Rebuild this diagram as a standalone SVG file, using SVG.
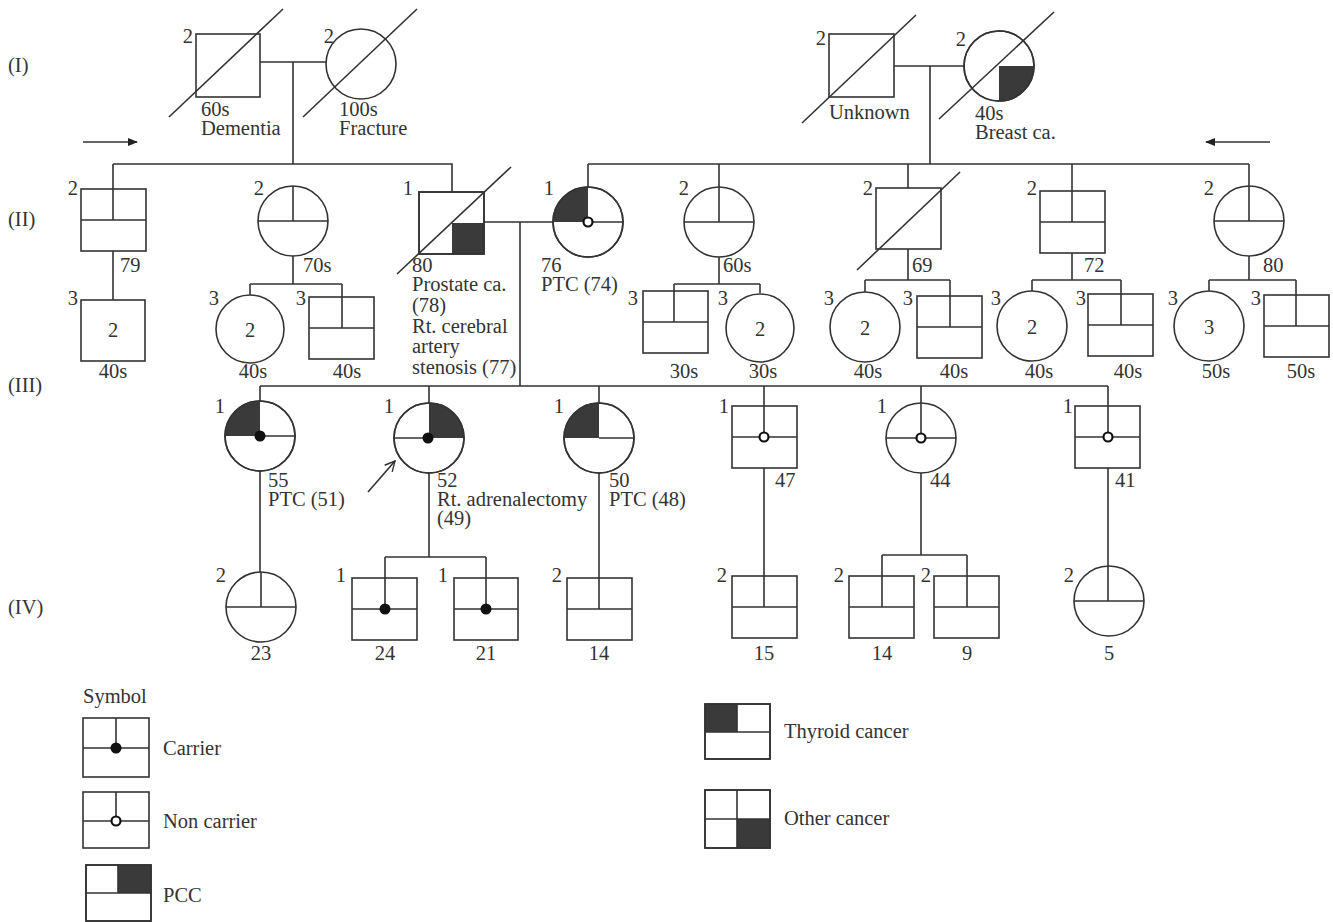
<svg xmlns="http://www.w3.org/2000/svg" width="1333" height="922" viewBox="0 0 1333 922">
<style>
.s{fill:none;stroke:#333;stroke-width:1.6}
.n{fill:#fff;stroke:#333;stroke-width:1.6}
.f{fill:#3a3a3a;stroke:none}
.d{fill:#111;stroke:none}
.o{fill:#fff;stroke:#111;stroke-width:2.2}
text{font-family:"Liberation Serif","Times New Roman",serif;font-size:20.5px;fill:#333}
.m{text-anchor:middle}
.e{text-anchor:end}
</style>
<defs>
<marker id="ah" markerWidth="10" markerHeight="8" refX="9" refY="4" orient="auto" markerUnits="userSpaceOnUse">
<path d="M0,0 L10,4 L0,8 Z" fill="#222"/>
</marker>
<marker id="pa" markerWidth="12" markerHeight="12" refX="11" refY="6" orient="auto" markerUnits="userSpaceOnUse">
<path d="M1,1 L11,6 L1,11" fill="none" stroke="#333" stroke-width="1.4"/>
</marker>
</defs>
<rect width="1333" height="922" fill="#fff"/>

<g id="generation-labels">
<text x="8" y="72">(I)</text>
<text x="8" y="226">(II)</text>
<text x="8" y="392">(III)</text>
<text x="8" y="614">(IV)</text>
</g>

<g id="connectors">
<path class="s" d="M260,62 H326 M293,62 V164"/>
<path class="s" d="M894,66 H964 M930,66 V164"/>
<path class="s" d="M113,164 H452 V192 M113,164 V189"/>
<path class="s" d="M588,164 H1249 M588,164 V187 M719,164 V187 M908,164 V188 M1072,164 V191 M1249,164 V186"/>
<path class="s" d="M113,251 V300"/>
<path class="s" d="M293,256 V284 M250,284 H342 M250,284 V295"/>
<path class="s" d="M484,222 H553 M520,222 V386"/>
<path class="s" d="M719,257 V284 M674,284 H760 M760,284 V293"/>
<path class="s" d="M908,249 V280 M865,280 H950 M865,280 V292"/>
<path class="s" d="M1072,253 V280 M1032,280 H1121 M1032,280 V291"/>
<path class="s" d="M1249,256 V280 M1209,280 H1296 M1209,280 V291"/>
<path class="s" d="M260,386 H1108 M260,386 V401 M429,386 V403 M599,386 V403 M764,386 V406 M921,386 V403 M1108,386 V406"/>
<path class="s" d="M260,471 V572"/>
<path class="s" d="M429,473 V557 M385,557 H486 M385,557 V578 M486,557 V578"/>
<path class="s" d="M599,473 V578"/>
<path class="s" d="M764,468 V576"/>
<path class="s" d="M921,473 V555 M882,555 H967 M882,555 V576 M967,555 V576"/>
<path class="s" d="M1108,468 V566"/>
<line class="s" x1="83" y1="142" x2="137" y2="142" marker-end="url(#ah)"/>
<line class="s" x1="1270" y1="142" x2="1206" y2="142" marker-end="url(#ah)"/>
<line class="s" x1="368" y1="492" x2="395" y2="461" stroke-width="1.3" marker-end="url(#pa)"/>
</g>

<g id="I-1">
<rect class="n" x="196" y="34" width="64" height="63"/>
<line class="s" x1="169" y1="117" x2="283" y2="9"/>
<text class="e" x="193" y="43">2</text>
<text x="201" y="116">60s</text>
<text x="201" y="135">Dementia</text>
</g>
<g id="I-2">
<circle class="n" cx="361" cy="64" r="35"/>
<line class="s" x1="303" y1="117" x2="417" y2="9"/>
<text class="e" x="334" y="43">2</text>
<text x="339" y="116">100s</text>
<text x="339" y="135">Fracture</text>
</g>
<g id="I-3">
<rect class="n" x="829" y="34" width="65" height="63"/>
<line class="s" x1="802" y1="123" x2="916" y2="15"/>
<text class="e" x="826" y="45">2</text>
<text x="829" y="119">Unknown</text>
</g>
<g id="I-4">
<circle class="n" cx="999" cy="66" r="35"/>
<path class="f" d="M999,66 H1034 A35,35 0 0 1 999,101 Z"/>
<circle class="s" cx="999" cy="66" r="35"/>
<line class="s" x1="939" y1="119" x2="1054" y2="12"/>
<text class="e" x="966" y="46">2</text>
<text x="975" y="120">40s</text>
<text x="975" y="139">Breast ca.</text>
</g>

<g id="II-1">
<rect class="n" x="81" y="189" width="65" height="62"/>
<path class="s" d="M113,189 V220 M81,220 H146"/>
<text class="e" x="78" y="195">2</text>
<text x="120" y="272">79</text>
</g>
<g id="II-2">
<circle class="n" cx="293" cy="221" r="35"/>
<path class="s" d="M293,186 V221 M258,221 H328"/>
<text class="e" x="264" y="195">2</text>
<text x="303" y="272">70s</text>
</g>
<g id="II-3">
<rect class="n" x="419" y="192" width="65" height="62"/>
<rect class="f" x="452" y="223" width="32" height="31"/>
<rect class="s" x="419" y="192" width="65" height="62"/>
<line class="s" x1="397" y1="274" x2="511" y2="167"/>
<text class="e" x="413" y="195">1</text>
<text x="412" y="272">80</text>
<text x="412" y="291">Prostate ca.</text>
<text x="412" y="312">(78)</text>
<text x="412" y="333">Rt. cerebral</text>
<text x="412" y="353">artery</text>
<text x="412" y="374">stenosis (77)</text>
</g>
<g id="II-4">
<circle class="n" cx="588" cy="222" r="35"/>
<path class="f" d="M588,222 H553 A35,35 0 0 1 588,187 Z"/>
<circle class="s" cx="588" cy="222" r="35"/>
<path class="s" d="M588,222 H623"/>
<circle class="o" cx="588" cy="222" r="4.5"/>
<text class="e" x="554" y="195">1</text>
<text x="541" y="272">76</text>
<text x="541" y="291">PTC (74)</text>
</g>
<g id="II-5">
<circle class="n" cx="719" cy="222" r="35"/>
<path class="s" d="M719,187 V222 M684,222 H754"/>
<text class="e" x="689" y="195">2</text>
<text x="723" y="272">60s</text>
</g>
<g id="II-6">
<rect class="n" x="876" y="188" width="65" height="61"/>
<line class="s" x1="857" y1="270" x2="960" y2="172"/>
<text class="e" x="873" y="195">2</text>
<text x="912" y="272">69</text>
</g>
<g id="II-7">
<rect class="n" x="1040" y="191" width="65" height="62"/>
<path class="s" d="M1072,191 V222 M1040,222 H1105"/>
<text class="e" x="1037" y="195">2</text>
<text x="1084" y="272">72</text>
</g>
<g id="II-8">
<circle class="n" cx="1249" cy="221" r="35"/>
<path class="s" d="M1249,186 V221 M1214,221 H1284"/>
<text class="e" x="1214" y="195">2</text>
<text x="1263" y="272">80</text>
</g>

<g id="III-1">
<rect class="n" x="81" y="300" width="64" height="61"/>
<text class="m" x="113" y="337">2</text>
<text class="e" x="78" y="305">3</text>
<text class="m" x="113" y="378">40s</text>
</g>
<g id="III-2">
<circle class="n" cx="250" cy="329" r="34"/>
<text class="m" x="250" y="337">2</text>
<text class="e" x="219" y="305">3</text>
<text class="m" x="253" y="378">40s</text>
</g>
<g id="III-3">
<rect class="n" x="309" y="297" width="65" height="62"/>
<path class="s" d="M342,284 V328 M309,328 H374"/>
<text class="e" x="306" y="305">3</text>
<text class="m" x="347" y="378">40s</text>
</g>
<g id="III-4">
<rect class="n" x="643" y="291" width="65" height="62"/>
<path class="s" d="M674,284 V322 M643,322 H708"/>
<text class="e" x="638" y="305">3</text>
<text class="m" x="684" y="378">30s</text>
</g>
<g id="III-5">
<circle class="n" cx="760" cy="328" r="34"/>
<text class="m" x="760" y="336">2</text>
<text class="e" x="728" y="305">3</text>
<text class="m" x="763" y="378">30s</text>
</g>
<g id="III-6">
<circle class="n" cx="865" cy="327" r="35"/>
<text class="m" x="865" y="335">2</text>
<text class="e" x="834" y="305">3</text>
<text class="m" x="868" y="378">40s</text>
</g>
<g id="III-7">
<rect class="n" x="917" y="296" width="65" height="62"/>
<path class="s" d="M950,280 V327 M917,327 H982"/>
<text class="e" x="913" y="305">3</text>
<text class="m" x="954" y="378">40s</text>
</g>
<g id="III-8">
<circle class="n" cx="1032" cy="326" r="35"/>
<text class="m" x="1032" y="334">2</text>
<text class="e" x="1001" y="305">3</text>
<text class="m" x="1039" y="378">40s</text>
</g>
<g id="III-9">
<rect class="n" x="1088" y="294" width="65" height="62"/>
<path class="s" d="M1121,280 V325 M1088,325 H1153"/>
<text class="e" x="1086" y="305">3</text>
<text class="m" x="1128" y="378">40s</text>
</g>
<g id="III-10">
<circle class="n" cx="1209" cy="326" r="35"/>
<text class="m" x="1209" y="334">3</text>
<text class="e" x="1178" y="305">3</text>
<text class="m" x="1216" y="378">50s</text>
</g>
<g id="III-11">
<rect class="n" x="1264" y="295" width="65" height="62"/>
<path class="s" d="M1296,280 V326 M1264,326 H1329"/>
<text class="e" x="1261" y="305">3</text>
<text class="m" x="1301" y="378">50s</text>
</g>

<g id="III-a">
<circle class="n" cx="260" cy="436" r="35"/>
<path class="f" d="M260,436 H225 A35,35 0 0 1 260,401 Z"/>
<circle class="s" cx="260" cy="436" r="35"/>
<path class="s" d="M260,436 H295"/>
<circle class="d" cx="260" cy="436" r="5.5"/>
<text class="e" x="225" y="413">1</text>
<text x="268" y="487">55</text>
<text x="268" y="506">PTC (51)</text>
</g>
<g id="III-b">
<circle class="n" cx="429" cy="438" r="35"/>
<path class="f" d="M429,438 V403 A35,35 0 0 1 464,438 Z"/>
<circle class="s" cx="429" cy="438" r="35"/>
<path class="s" d="M394,438 H429"/>
<circle class="d" cx="428" cy="438" r="5.5"/>
<text class="e" x="394" y="413">1</text>
<text x="437" y="487">52</text>
<text x="437" y="506">Rt. adrenalectomy</text>
<text x="437" y="525">(49)</text>
</g>
<g id="III-c">
<circle class="n" cx="599" cy="438" r="35"/>
<path class="f" d="M599,438 H564 A35,35 0 0 1 599,403 Z"/>
<circle class="s" cx="599" cy="438" r="35"/>
<path class="s" d="M599,438 H634"/>
<text class="e" x="564" y="413">1</text>
<text x="609" y="487">50</text>
<text x="609" y="506">PTC (48)</text>
</g>
<g id="III-d">
<rect class="n" x="732" y="406" width="65" height="62"/>
<path class="s" d="M764,406 V437 M732,437 H797"/>
<circle class="o" cx="764" cy="437" r="4.5"/>
<text class="e" x="729" y="413">1</text>
<text x="775" y="487">47</text>
</g>
<g id="III-e">
<circle class="n" cx="921" cy="438" r="35"/>
<path class="s" d="M921,403 V438 M886,438 H956"/>
<circle class="o" cx="921" cy="438" r="4.5"/>
<text class="e" x="887" y="413">1</text>
<text x="930" y="487">44</text>
</g>
<g id="III-f">
<rect class="n" x="1075" y="406" width="65" height="62"/>
<path class="s" d="M1108,406 V437 M1075,437 H1140"/>
<circle class="o" cx="1108" cy="437" r="4.5"/>
<text class="e" x="1073" y="413">1</text>
<text x="1115" y="487">41</text>
</g>

<g id="IV-a">
<circle class="n" cx="261" cy="607" r="35"/>
<path class="s" d="M261,572 V607 M226,607 H296"/>
<text class="e" x="226" y="582">2</text>
<text class="m" x="261" y="660">23</text>
</g>
<g id="IV-b">
<rect class="n" x="352" y="578" width="65" height="62"/>
<path class="s" d="M385,578 V609 M352,609 H417"/>
<circle class="d" cx="385" cy="609" r="5.5"/>
<text class="e" x="346" y="582">1</text>
<text class="m" x="385" y="660">24</text>
</g>
<g id="IV-c">
<rect class="n" x="454" y="578" width="64" height="62"/>
<path class="s" d="M486,578 V609 M454,609 H518"/>
<circle class="d" cx="486" cy="609" r="5.5"/>
<text class="e" x="448" y="582">1</text>
<text class="m" x="486" y="660">21</text>
</g>
<g id="IV-d">
<rect class="n" x="567" y="578" width="65" height="62"/>
<path class="s" d="M599,578 V609 M567,609 H632"/>
<text class="e" x="562" y="582">2</text>
<text class="m" x="599" y="660">14</text>
</g>
<g id="IV-e">
<rect class="n" x="732" y="576" width="65" height="62"/>
<path class="s" d="M764,576 V607 M732,607 H797"/>
<text class="e" x="727" y="582">2</text>
<text class="m" x="764" y="660">15</text>
</g>
<g id="IV-f">
<rect class="n" x="849" y="576" width="65" height="62"/>
<path class="s" d="M882,576 V607 M849,607 H914"/>
<text class="e" x="844" y="582">2</text>
<text class="m" x="882" y="660">14</text>
</g>
<g id="IV-g">
<rect class="n" x="934" y="576" width="65" height="62"/>
<path class="s" d="M967,576 V607 M934,607 H999"/>
<text class="e" x="931" y="582">2</text>
<text class="m" x="967" y="660">9</text>
</g>
<g id="IV-h">
<circle class="n" cx="1109" cy="601" r="35"/>
<path class="s" d="M1108,566 V601 M1074,601 H1144"/>
<text class="e" x="1074" y="582">2</text>
<text class="m" x="1109" y="660">5</text>
</g>

<g id="legend">
<text x="83" y="703">Symbol</text>
<g id="legend-carrier">
<rect class="n" x="83" y="718" width="66" height="59"/>
<path class="s" d="M116,718 V748 M83,748 H149"/>
<circle class="d" cx="116" cy="748" r="5.5"/>
<text x="163" y="755">Carrier</text>
</g>
<g id="legend-noncarrier">
<rect class="n" x="83" y="792" width="66" height="56"/>
<path class="s" d="M116,792 V821 M83,821 H149"/>
<circle class="o" cx="116" cy="821" r="4.5"/>
<text x="163" y="828">Non carrier</text>
</g>
<g id="legend-pcc">
<rect class="n" x="86" y="865" width="65" height="56"/>
<rect class="f" x="118" y="865" width="33" height="28"/>
<path class="s" d="M86,893 H151 M118,865 V893"/>
<rect class="s" x="86" y="865" width="65" height="56"/>
<text x="163" y="902">PCC</text>
</g>
<g id="legend-thyroid">
<rect class="n" x="705" y="704" width="65" height="55"/>
<rect class="f" x="705" y="704" width="32" height="28"/>
<path class="s" d="M705,732 H770 M737,704 V732"/>
<rect class="s" x="705" y="704" width="65" height="55"/>
<text x="784" y="738">Thyroid cancer</text>
</g>
<g id="legend-other">
<rect class="n" x="705" y="790" width="65" height="58"/>
<rect class="f" x="737" y="819" width="33" height="29"/>
<path class="s" d="M705,819 H770 M737,790 V848"/>
<rect class="s" x="705" y="790" width="65" height="58"/>
<text x="784" y="825">Other cancer</text>
</g>
</g>
</svg>
